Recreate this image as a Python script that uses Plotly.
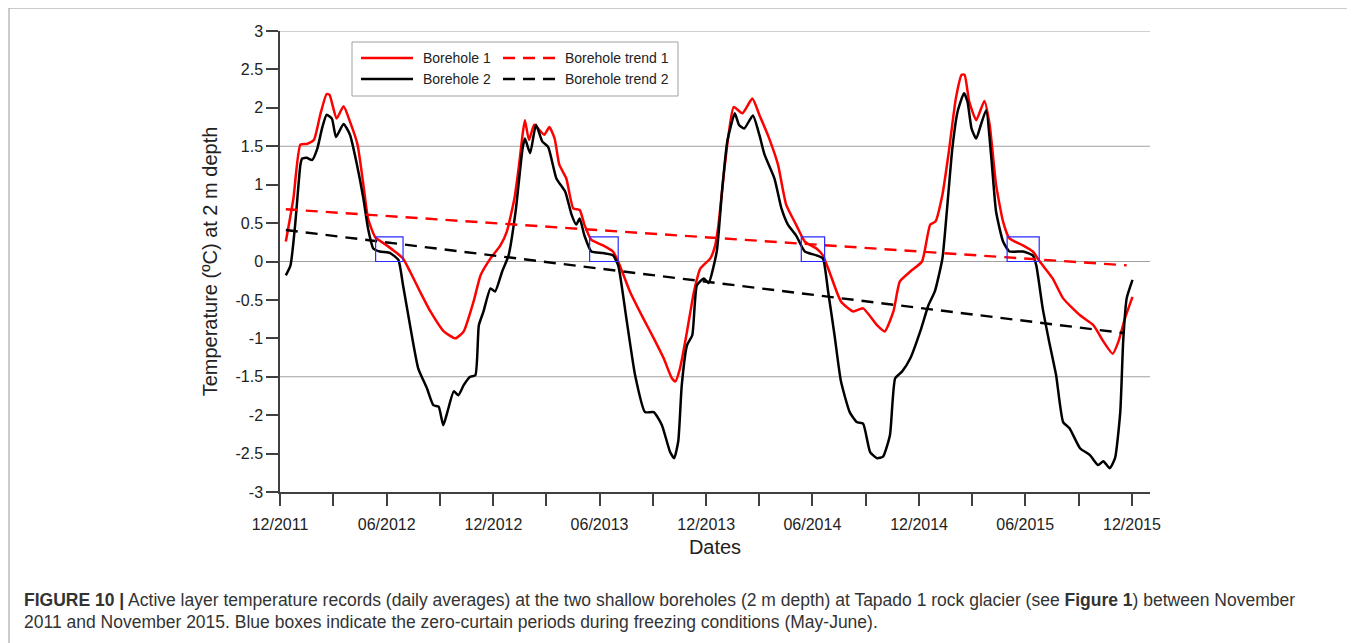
import plotly.graph_objects as go

# Borehole 1 (red) - daily averages
B1_DATES = [
    "2011-12-11", "2011-12-24", "2012-01-05", "2012-01-16", "2012-01-28", "2012-02-08",
    "2012-02-19", "2012-02-24", "2012-03-07", "2012-03-19", "2012-03-30", "2012-04-12",
    "2012-04-22", "2012-04-30", "2012-05-12", "2012-06-01", "2012-06-15", "2012-06-29",
    "2012-07-11", "2012-07-28", "2012-08-15", "2012-09-07", "2012-09-27", "2012-10-11",
    "2012-10-28", "2012-11-09", "2012-11-26", "2012-12-13", "2012-12-24", "2013-01-06",
    "2013-01-14", "2013-01-20", "2013-01-24", "2013-01-31", "2013-02-09", "2013-02-26",
    "2013-03-07", "2013-03-16", "2013-03-24", "2013-04-05", "2013-04-17", "2013-04-28",
    "2013-05-06", "2013-05-18", "2013-06-07", "2013-06-24", "2013-07-03", "2013-07-23",
    "2013-08-15", "2013-09-02", "2013-09-19", "2013-10-03", "2013-10-09", "2013-10-17",
    "2013-10-29", "2013-11-10", "2013-11-21", "2013-12-08", "2013-12-16", "2013-12-22",
    "2013-12-31", "2014-01-09", "2014-01-17", "2014-02-01", "2014-02-18", "2014-03-02",
    "2014-03-19", "2014-04-03", "2014-04-17", "2014-05-04", "2014-05-19", "2014-06-08",
    "2014-06-19", "2014-06-30", "2014-07-20", "2014-08-10", "2014-08-27", "2014-09-20",
    "2014-10-03", "2014-10-18", "2014-10-29", "2014-11-16", "2014-12-06", "2014-12-20",
    "2014-12-29", "2015-01-10", "2015-01-21", "2015-02-02", "2015-02-12", "2015-02-17",
    "2015-02-25", "2015-03-09", "2015-03-23", "2015-04-01", "2015-04-12", "2015-04-24",
    "2015-05-05", "2015-05-28", "2015-06-14", "2015-06-26", "2015-07-18", "2015-08-05",
    "2015-09-03", "2015-09-26", "2015-10-13", "2015-10-29", "2015-11-08", "2015-11-19",
    "2015-12-02",
]
B1_TEMP = [
    0.26, 0.82, 1.52, 1.53, 1.58, 1.91,
    2.18, 2.17, 1.86, 2.02, 1.82, 1.52,
    1.00, 0.56, 0.32, 0.21, 0.13, 0.04,
    -0.13, -0.39, -0.65, -0.91, -1.00, -0.91,
    -0.52, -0.18, 0.04, 0.21, 0.39, 0.82,
    1.26, 1.65, 1.84, 1.58, 1.78, 1.65,
    1.75, 1.60, 1.26, 1.08, 0.69, 0.67,
    0.48, 0.28, 0.21, 0.13, 0.00, -0.39,
    -0.74, -1.00, -1.26, -1.52, -1.56, -1.39,
    -0.91, -0.39, -0.09, 0.04, 0.20, 0.48,
    1.13, 1.69, 2.01, 1.93, 2.12, 1.91,
    1.60, 1.26, 0.74, 0.48, 0.26, 0.17,
    0.08, -0.13, -0.52, -0.65, -0.61, -0.83,
    -0.91, -0.65, -0.26, -0.13, 0.00, 0.48,
    0.52, 0.87, 1.43, 2.12, 2.43, 2.43,
    2.08, 1.84, 2.09, 1.78, 1.00, 0.52,
    0.30, 0.21, 0.13, 0.00, -0.22, -0.48,
    -0.70, -0.83, -1.04, -1.20, -1.04, -0.74,
    -0.46,
]

# Borehole 2 (black)
B2_DATES = [
    "2011-12-11", "2011-12-19", "2011-12-27", "2012-01-05", "2012-01-08", "2012-01-16",
    "2012-01-25", "2012-02-03", "2012-02-11", "2012-02-19", "2012-02-28", "2012-03-06",
    "2012-03-19", "2012-03-30", "2012-04-11", "2012-04-22", "2012-04-30", "2012-05-09",
    "2012-05-20", "2012-06-07", "2012-06-21", "2012-06-29", "2012-07-11", "2012-07-25",
    "2012-08-09", "2012-08-20", "2012-08-29", "2012-09-06", "2012-09-13", "2012-09-24",
    "2012-10-02", "2012-10-11", "2012-10-22", "2012-10-31", "2012-11-06", "2012-11-14",
    "2012-11-26", "2012-12-04", "2012-12-16", "2012-12-27", "2013-01-08", "2013-01-20",
    "2013-01-24", "2013-02-02", "2013-02-12", "2013-02-23", "2013-03-05", "2013-03-19",
    "2013-04-03", "2013-04-14", "2013-04-22", "2013-04-28", "2013-05-06", "2013-05-18",
    "2013-06-07", "2013-06-24", "2013-07-03", "2013-07-17", "2013-08-01", "2013-08-18",
    "2013-09-02", "2013-09-16", "2013-09-30", "2013-10-07", "2013-10-14", "2013-10-20",
    "2013-10-29", "2013-11-07", "2013-11-15", "2013-11-27", "2013-12-05", "2013-12-19",
    "2013-12-28", "2014-01-06", "2014-01-19", "2014-01-26", "2014-02-04", "2014-02-19",
    "2014-03-02", "2014-03-11", "2014-03-28", "2014-04-09", "2014-04-20", "2014-05-04",
    "2014-05-19", "2014-06-08", "2014-06-19", "2014-06-28", "2014-07-09", "2014-07-20",
    "2014-08-04", "2014-08-16", "2014-08-27", "2014-09-08", "2014-09-20", "2014-09-30",
    "2014-10-12", "2014-10-21", "2014-11-02", "2014-11-16", "2014-12-03", "2014-12-17",
    "2014-12-28", "2015-01-10", "2015-01-18", "2015-01-27", "2015-02-05", "2015-02-16",
    "2015-02-22", "2015-03-01", "2015-03-09", "2015-03-17", "2015-03-26", "2015-04-04",
    "2015-04-12", "2015-04-24", "2015-05-05", "2015-05-28", "2015-06-14", "2015-06-20",
    "2015-07-01", "2015-07-12", "2015-07-24", "2015-08-05", "2015-08-16", "2015-09-03",
    "2015-09-20", "2015-10-04", "2015-10-13", "2015-10-24", "2015-11-02", "2015-11-11",
    "2015-11-16", "2015-11-22", "2015-12-02",
]
B2_TEMP = [
    -0.18, -0.05, 0.48, 1.26, 1.34, 1.35,
    1.32, 1.47, 1.73, 1.91, 1.86, 1.62,
    1.79, 1.65, 1.26, 0.82, 0.43, 0.17,
    0.13, 0.11, 0.02, -0.31, -0.83, -1.39,
    -1.65, -1.87, -1.89, -2.13, -1.96, -1.69,
    -1.74, -1.61, -1.50, -1.48, -0.83, -0.65,
    -0.35, -0.39, -0.13, 0.08, 0.65, 1.47,
    1.60, 1.41, 1.78, 1.56, 1.49, 1.08,
    0.91, 0.61, 0.48, 0.56, 0.34, 0.13,
    0.11, 0.08, -0.05, -0.74, -1.48, -1.96,
    -1.96, -2.13, -2.48, -2.56, -2.34, -1.61,
    -1.09, -0.96, -0.31, -0.22, -0.28, 0.13,
    0.91, 1.56, 1.93, 1.78, 1.73, 1.90,
    1.65, 1.39, 1.08, 0.69, 0.48, 0.34,
    0.13, 0.08, 0.04, -0.39, -0.96, -1.56,
    -1.96, -2.09, -2.11, -2.48, -2.56, -2.54,
    -2.26, -1.52, -1.43, -1.26, -0.91, -0.57,
    -0.39, 0.04, 0.69, 1.47, 1.95, 2.19,
    2.08, 1.73, 1.60, 1.78, 1.97, 1.34,
    0.65, 0.26, 0.13, 0.13, 0.08, -0.05,
    -0.61, -1.04, -1.48, -2.09, -2.17, -2.43,
    -2.52, -2.65, -2.60, -2.69, -2.56, -1.96,
    -1.04, -0.48, -0.24,
]

# linear trends
TREND1_DATES = ["2011-12-11", "2015-11-22"]
TREND1_TEMP = [0.68, -0.05]
TREND2_DATES = ["2011-12-11", "2015-11-16"]
TREND2_TEMP = [0.41, -0.93]

# zero-curtain periods (blue boxes)
ZC_START = ["2012-05-13", "2013-05-15", "2014-05-13", "2015-05-01"]
ZC_END = ["2012-06-29", "2013-07-03", "2014-06-22", "2015-06-25"]
ZC_TOP = 0.32

X_TICKS = [
    "2011-12-01", "2012-03-01", "2012-06-01", "2012-09-01", "2012-12-01",
    "2013-03-01", "2013-06-01", "2013-09-01", "2013-12-01", "2014-03-01",
    "2014-06-01", "2014-09-01", "2014-12-01", "2015-03-01", "2015-06-01",
    "2015-09-01", "2015-12-01",
]
X_LABELS = [
    "12/2011", "", "06/2012", "", "12/2012", "", "06/2013", "", "12/2013", "",
    "06/2014", "", "12/2014", "", "06/2015", "", "12/2015",
]
Y_TICKS = [3, 2.5, 2, 1.5, 1, 0.5, 0, -0.5, -1, -1.5, -2, -2.5, -3]
Y_LABELS = ["3", "2.5", "2", "1.5", "1", "0.5", "0", "-0.5", "-1", "-1.5", "-2", "-2.5", "-3"]
GRID_LEVELS = [3, 1.5, 0, -1.5]

LEGEND_LABELS = ["Borehole 1", "Borehole 2", "Borehole trend 1", "Borehole trend 2"]

RED = "#ff0000"
BLACK = "#000000"
AXIS = "#404040"
FONT = "Liberation Sans, Arial, sans-serif"

# page / plot-area geometry in pixels (page coords)
W, H = 1355, 643
L, R, T, B = 280, 1150, 31, 492
OFF = 8  # default body margin of the html page


def px(x):
    return (x - L) / (R - L)


def py(y):
    return (B - y) / (B - T)


fig = go.Figure()
curve = dict(width=2.5, shape="spline", smoothing=0.5)
fig.add_trace(go.Scatter(x=B1_DATES, y=B1_TEMP, mode="lines", name=LEGEND_LABELS[0],
                         line=dict(color=RED, **curve)))
fig.add_trace(go.Scatter(x=B2_DATES, y=B2_TEMP, mode="lines", name=LEGEND_LABELS[1],
                         line=dict(color=BLACK, **curve)))
fig.add_trace(go.Scatter(x=TREND1_DATES, y=TREND1_TEMP, mode="lines", name=LEGEND_LABELS[2],
                         line=dict(color=RED, width=2.4, dash="12px,8px")))
fig.add_trace(go.Scatter(x=TREND2_DATES, y=TREND2_TEMP, mode="lines", name=LEGEND_LABELS[3],
                         line=dict(color=BLACK, width=2.4, dash="12px,8px")))

for g in GRID_LEVELS:
    fig.add_hline(y=g, line=dict(color="#a0a0a0", width=1), layer="below")

for s, e in zip(ZC_START, ZC_END):
    fig.add_shape(type="rect", xref="x", yref="y", x0=s, x1=e, y0=0, y1=ZC_TOP,
                  line=dict(color="#2a2aff", width=1.2), layer="above")

shapes = []
# outer figure frame
shapes.append(dict(type="rect", xref="paper", yref="paper", x0=px(9), x1=px(1353),
                   y0=py(700), y1=py(8), line=dict(color="#9a9a9a", width=1)))
# hand-made legend box with two columns
shapes.append(dict(type="rect", xref="paper", yref="paper", x0=px(352), x1=px(678),
                   y0=py(96), y1=py(42), line=dict(color="#a0a0a0", width=1),
                   fillcolor="white", layer="above"))
legend_items = [
    (LEGEND_LABELS[0], RED, "solid", 361, 58),
    (LEGEND_LABELS[1], BLACK, "solid", 361, 79),
    (LEGEND_LABELS[2], RED, "12px,8px", 503, 58),
    (LEGEND_LABELS[3], BLACK, "12px,8px", 503, 79),
]
annotations = []
for label, col, dash, x0, yc in legend_items:
    shapes.append(dict(type="line", xref="paper", yref="paper", x0=px(x0), x1=px(x0 + 52),
                       y0=py(yc), y1=py(yc), line=dict(color=col, width=2.4, dash=dash),
                       layer="above"))
    annotations.append(dict(xref="paper", yref="paper", x=px(x0 + 60), y=py(yc),
                            xanchor="left", yanchor="middle", showarrow=False, text=label,
                            font=dict(size=14, color="#222", family=FONT)))

# caption
cap_font = dict(size=17.5, color="#333", family=FONT)
annotations.append(dict(
    xref="paper", yref="paper", x=px(22), y=py(600), xanchor="left", yanchor="middle",
    showarrow=False, align="left", font=cap_font,
    text="<b>FIGURE 10 |</b> Active layer temperature records (daily averages) at the two shallow "
         "boreholes (2 m depth) at Tapado 1 rock glacier (see <b>Figure 1</b>) between November"))
annotations.append(dict(
    xref="paper", yref="paper", x=px(22), y=py(622), xanchor="left", yanchor="middle",
    showarrow=False, align="left", font=cap_font,
    text="2011 and November 2015. Blue boxes indicate the zero-curtain periods during freezing "
         "conditions (May-June)."))

fig.update_layout(
    width=W - OFF, height=H - OFF, paper_bgcolor="white", plot_bgcolor="white",
    margin=dict(l=L - OFF, r=W - R, t=T - OFF, b=H - B, pad=0),
    showlegend=False, shapes=list(fig.layout.shapes) + shapes, annotations=annotations,
    font=dict(family=FONT, color="#222"),
    xaxis=dict(
        type="date", range=["2011-12-01", "2016-01-01"],
        tickmode="array", tickvals=X_TICKS, ticktext=X_LABELS,
        ticks="outside", ticklen=12, tickwidth=1.5, tickcolor=AXIS,
        showline=True, linecolor=AXIS, linewidth=1.5, ticklabelstandoff=5,
        showgrid=False, zeroline=False, tickfont=dict(size=16),
        title=dict(text="Dates", font=dict(size=20), standoff=8),
    ),
    yaxis=dict(
        range=[-3, 3], tickmode="array", tickvals=Y_TICKS, ticktext=Y_LABELS,
        ticks="outside", ticklen=12, tickwidth=1.5, tickcolor=AXIS,
        showline=True, linecolor=AXIS, linewidth=1.5,
        showgrid=False, zeroline=False, tickfont=dict(size=16),
        title=dict(text="Temperature (ºC) at 2 m depth", font=dict(size=20), standoff=12),
    ),
)

fig.write_html("out.html")
